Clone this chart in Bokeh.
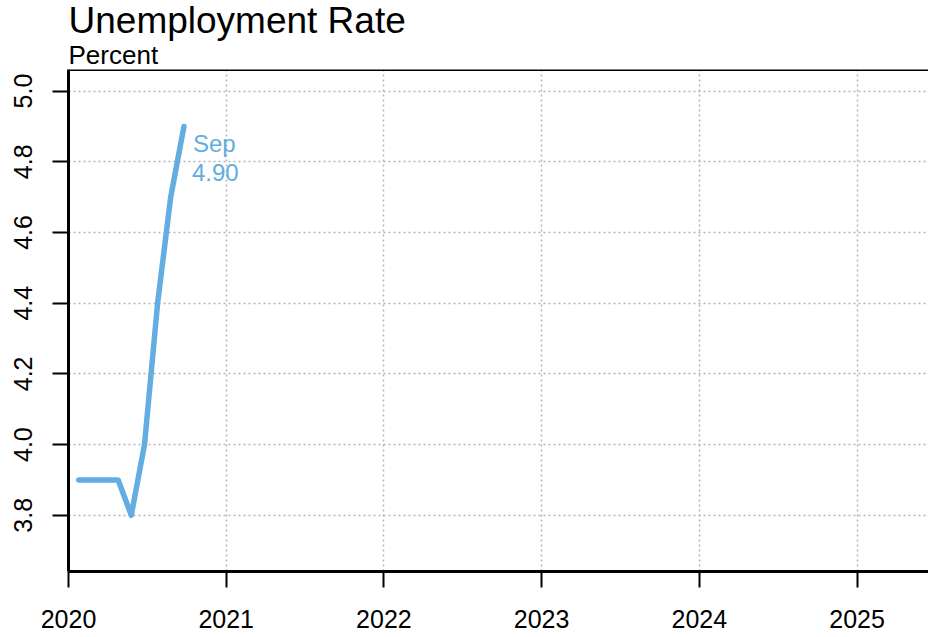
from bokeh.plotting import figure
from bokeh.models import Range1d, FixedTicker, Title, Span, PrintfTickFormatter, ColumnDataSource
from bokeh.core.properties import value
from bokeh.embed import file_html
from bokeh.resources import INLINE

# ---- data ----
months = ["Jan", "Feb", "Mar", "Apr", "May", "Jun", "Jul", "Aug", "Sep"]
dates = [2020.065, 2020.148, 2020.232, 2020.315, 2020.398, 2020.482, 2020.565, 2020.648, 2020.732]
rate = [3.9, 3.9, 3.9, 3.9, 3.8, 4.0, 4.4, 4.7, 4.9]
year_ticks = [2020, 2021, 2022, 2023, 2024, 2025]
rate_ticks = [3.8, 4.0, 4.2, 4.4, 4.6, 4.8, 5.0]
title_text = "Unemployment Rate"
subtitle_text = "Percent"

FONT = "Liberation Sans"
LINE_COLOR = "#62AEE0"

p = figure(width=928, height=637, output_backend="svg", toolbar_location=None,
           x_range=Range1d(2020, 2025.453), y_range=Range1d(3.641, 5.061),
           min_border_left=68, min_border_right=0, min_border_top=0, min_border_bottom=66,
           title=None)
p.outline_line_color = None
p.background_fill_color = "white"
p.border_fill_color = "white"

# grid
for g, t in ((p.xgrid, year_ticks), (p.ygrid, rate_ticks)):
    g.ticker = FixedTicker(ticks=t)
    g.grid_line_color = "#b4b4b4"
    g.grid_line_dash = "2 3"
    g.grid_line_width = 1.5

# axes
for ax in (p.xaxis[0], p.yaxis[0]):
    ax.axis_line_width = 3
    ax.axis_line_color = "black"
    ax.major_tick_line_width = 2
    ax.major_tick_line_color = "black"
    ax.major_tick_in = 0
    ax.major_tick_out = 16
    ax.minor_tick_line_color = None
    ax.major_label_text_font = FONT
    ax.major_label_text_font_size = "25px"
    ax.major_label_text_color = "black"

p.xaxis.ticker = FixedTicker(ticks=year_ticks)
p.xaxis.major_label_standoff = 22
p.yaxis.ticker = FixedTicker(ticks=rate_ticks)
p.yaxis.formatter = PrintfTickFormatter(format="%.1f")
p.yaxis.major_label_orientation = "vertical"
p.yaxis.major_label_standoff = 20

# top frame line
p.add_layout(Span(location=p.y_range.end, dimension="width", line_color="black", line_width=3))

# series
src = ColumnDataSource(dict(x=dates, y=rate))
p.line("x", "y", source=src, line_width=5.5, line_color=LINE_COLOR, line_join="round", line_cap="round")

# end label
p.text(x=[dates[-1]], y=[rate[-1]], text=[months[-1]], x_offset=9, y_offset=17,
       text_font=value(FONT), text_font_size="24px", text_color=LINE_COLOR,
       text_baseline="alphabetic", text_align="left")
p.text(x=[dates[-1]], y=[rate[-1]], text=["%.2f" % rate[-1]], x_offset=8, y_offset=46,
       text_font=value(FONT), text_font_size="24px", text_color=LINE_COLOR,
       text_baseline="alphabetic", text_align="left")

# titles: first added sits next to the frame
p.add_layout(Title(text=subtitle_text, text_font=FONT, text_font_size="26px",
                   text_font_style="normal", text_color="black", align="left",
                   vertical_align="bottom", text_baseline="alphabetic", standoff=0), "above")
p.add_layout(Title(text=title_text, text_font=FONT, text_font_size="37px",
                   text_font_style="normal", text_color="black", align="left",
                   vertical_align="bottom", text_baseline="alphabetic", standoff=-6), "above")

open("out.html", "w").write(file_html(p, INLINE))
